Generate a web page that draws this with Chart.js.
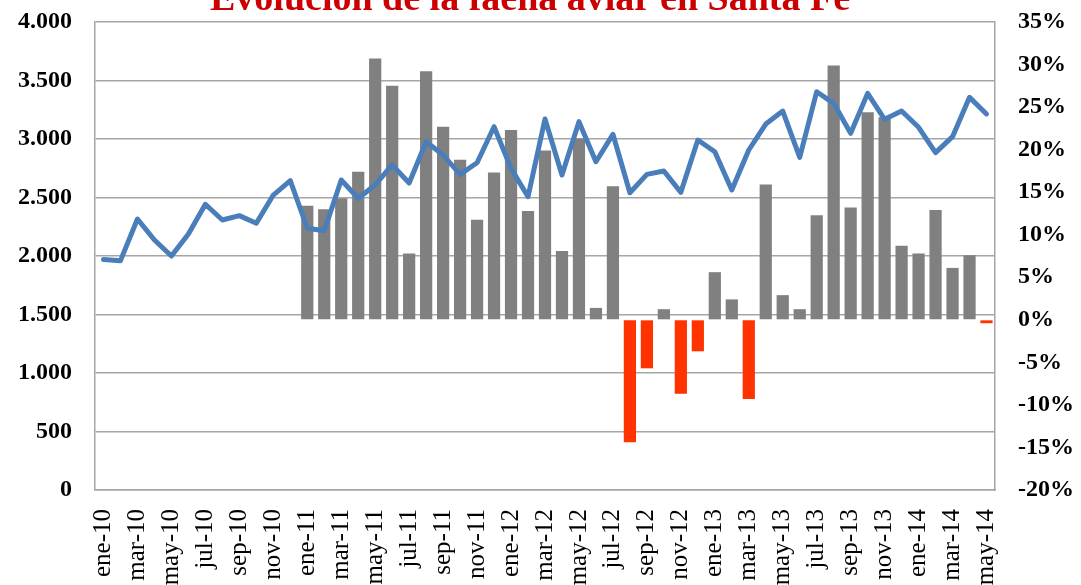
<!DOCTYPE html>
<html lang="es">
<head>
<meta charset="utf-8">
<title>Faena aviar Santa Fe</title>
<script src="https://cdn.jsdelivr.net/npm/chart.js@4.4.1/dist/chart.umd.min.js"></script>
<style>
    html, body { margin: 0; padding: 0; background: #fff; overflow: hidden; }
    #wrap { position: relative; width: 1081px; height: 585px; overflow: hidden; }
    #titulo {
        position: absolute;
        left: 530px;
        top: -22px;
        transform: translateX(-50%);
        margin: 0;
        font-family: "Liberation Serif", "Times New Roman", serif;
        font-weight: bold;
        font-size: 38px;
        line-height: 38px;
        color: #cc0000;
        white-space: nowrap;
    }
    canvas { position: absolute; left: 0; top: 0; }
</style>
</head>
<body>
<div id="wrap">
    <canvas id="faenaChart" width="1081" height="585"></canvas>
    <h1 id="titulo">Evolución de la faena aviar en Santa Fe</h1>
</div>
<script>
// meses ene-10 .. may-14
const meses = [
    'ene-10', 'feb-10', 'mar-10', 'abr-10', 'may-10', 'jun-10', 'jul-10', 'ago-10', 'sep-10', 'oct-10', 'nov-10', 'dic-10',
    'ene-11', 'feb-11', 'mar-11', 'abr-11', 'may-11', 'jun-11', 'jul-11', 'ago-11', 'sep-11', 'oct-11', 'nov-11', 'dic-11',
    'ene-12', 'feb-12', 'mar-12', 'abr-12', 'may-12', 'jun-12', 'jul-12', 'ago-12', 'sep-12', 'oct-12', 'nov-12', 'dic-12',
    'ene-13', 'feb-13', 'mar-13', 'abr-13', 'may-13', 'jun-13', 'jul-13', 'ago-13', 'sep-13', 'oct-13', 'nov-13', 'dic-13',
    'ene-14', 'feb-14', 'mar-14', 'abr-14', 'may-14'
];

// faena mensual (eje izquierdo)
const faena = [
    1970, 1960, 2316, 2137, 2000, 2188, 2442, 2308, 2345, 2280, 2521, 2644,
    2237, 2216, 2650, 2493, 2607, 2778, 2624, 2977, 2863, 2698, 2797, 3105,
    2749, 2507, 3171, 2692, 3148, 2806, 3040, 2541, 2698, 2726, 2544, 2991,
    2891, 2564, 2906, 3128, 3239, 2843, 3404, 3305, 3049, 3390, 3168, 3239,
    3100, 2883, 3020, 3356, 3214
];

// variacion interanual en % (eje derecho)
const variacion = [
    null, null, null, null, null, null, null, null, null, null, null, null,
    13.4, 13.0, 14.3, 17.4, 30.7, 27.5, 7.8, 29.2, 22.7, 18.8, 11.75, 17.3,
    22.3, 12.8, 19.9, 8.1, 21.3, 1.4, 15.7, -14.4, -5.7, 1.25, -8.7, -3.7,
    5.6, 2.4, -9.3, 15.9, 2.9, 1.25, 12.3, 29.9, 13.2, 24.4, 23.8, 8.7,
    7.8, 12.9, 6.1, 7.6, -0.4
];

const ticksIzq = [0, 500, 1000, 1500, 2000, 2500, 3000, 3500, 4000];
const ticksDer = [-20, -15, -10, -5, 0, 5, 10, 15, 20, 25, 30, 35];

const gris = '#a6a6a6';
const serif = '"Liberation Serif", "Times New Roman", serif';

function miles(v) {
    return String(v).replace(/\B(?=(\d{3})+(?!\d))/g, '.');
}

// sin el medio rotulo extra arriba/abajo de los ejes verticales
function sinPadding(scale) {
    scale.paddingTop = 0;
    scale.paddingBottom = 0;
}

const ctx = document.getElementById('faenaChart').getContext('2d');

new Chart(ctx, {
    data: {
        labels: meses,
        datasets: [{
            type: 'line',
            label: 'Faena',
            data: faena,
            yAxisID: 'y',
            borderColor: '#4a7ebb',
            borderWidth: 5,
            pointRadius: 0,
            tension: 0,
            borderJoinStyle: 'round',
            borderCapStyle: 'round',
            order: 1
        }, {
            type: 'bar',
            label: 'Var. %',
            data: variacion,
            yAxisID: 'y1',
            backgroundColor: ctx => (ctx.raw < 0 ? '#ff3300' : '#808080'),
            categoryPercentage: 1,
            barPercentage: 0.72,
            order: 2
        }]
    },
    options: {
        responsive: false,
        animation: false,
        layout: { padding: { top: 22, left: 0, right: 0, bottom: 0 } },
        plugins: {
            legend: { display: false },
            tooltip: { enabled: false }
        },
        scales: {
            x: {
                grid: { display: false, drawTicks: false },
                border: { display: true, color: gris, width: 1.5 },
                ticks: {
                    autoSkip: false,
                    minRotation: 90,
                    maxRotation: 90,
                    padding: 19,
                    color: '#000',
                    font: { family: serif, size: 25 },
                    callback: function(value, index) {
                        return index % 2 === 0 ? meses[index] : '';
                    }
                },
                afterFit: scale => {
                    scale.height = 95;
                    scale.paddingLeft = 0;
                    scale.paddingRight = 0;
                }
            },
            y: {
                position: 'left',
                min: 0,
                max: 4000,
                afterBuildTicks: scale => { scale.ticks = ticksIzq.map(v => ({ value: v })); },
                grid: { color: gris, lineWidth: 1.5, drawTicks: false },
                border: { display: true, color: gris, width: 1.5 },
                ticks: {
                    padding: 23,
                    color: '#000',
                    font: { family: serif, size: 24, weight: 'bold' },
                    callback: v => miles(v)
                },
                afterFit: scale => { scale.width = 95; sinPadding(scale); }
            },
            y1: {
                position: 'right',
                min: -20,
                max: 35,
                afterBuildTicks: scale => { scale.ticks = ticksDer.map(v => ({ value: v })); },
                grid: { drawOnChartArea: false, drawTicks: false },
                border: { display: true, color: gris, width: 1.5 },
                ticks: {
                    padding: 23,
                    color: '#000',
                    font: { family: serif, size: 24, weight: 'bold' },
                    callback: v => v + '%'
                },
                afterFit: scale => { scale.width = 86; sinPadding(scale); }
            }
        }
    }
});
</script>
</body>
</html>
